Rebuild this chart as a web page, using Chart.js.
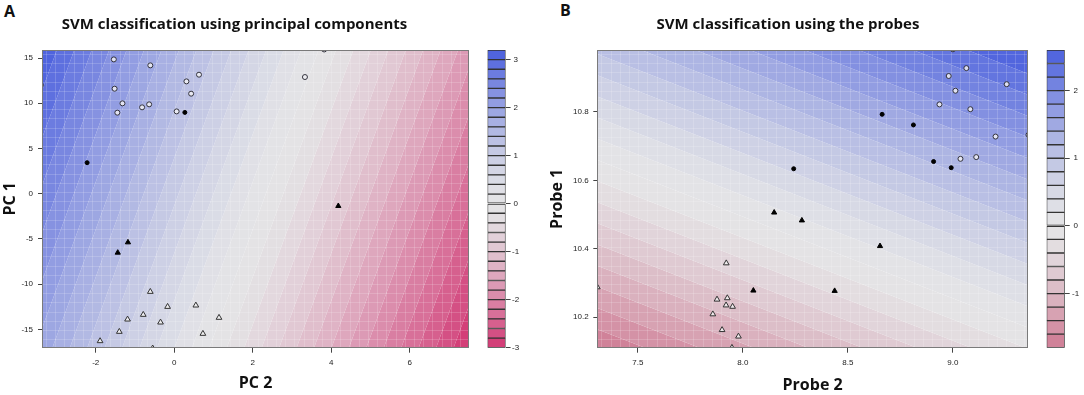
<!DOCTYPE html>
<html>
<head>
<meta charset="utf-8">
<script src="https://cdn.jsdelivr.net/npm/chart.js@4.4.1/dist/chart.umd.min.js"></script>
<style>
  body { margin: 0; background: #fff; }
  #fig { position: relative; width: 1084px; height: 395px; overflow: hidden; background: #fff; }
  #fig canvas { position: absolute; top: 0; }
  .tag { position: absolute; font: bold 16px "Open Sans", sans-serif; line-height: 16px; color: #111; }
</style>
</head>
<body>
<div id="fig">
  <div class="tag" style="left:4px;top:3px">A</div>
  <div class="tag" style="left:560px;top:2px">B</div>
  <canvas id="pcChart" width="551" height="395" style="left:0"></canvas>
  <canvas id="pcKey" width="60" height="395" style="left:480px"></canvas>
  <canvas id="probeChart" width="536" height="395" style="left:548px"></canvas>
  <canvas id="probeKey" width="46" height="395" style="left:1038px"></canvas>
</div>
<script>
// ---------- panel A : principal components ----------
const pcRangeX = [-3.37, 7.51];
const pcRangeY = [-17.03, 15.89];
const pcTicksX = [-2, 0, 2, 4, 6];
const pcTicksY = [-15, -10, -5, 0, 5, 10, 15];
const pcOpenCircles = [[-1.54, 14.85], [-0.61, 14.19], [-1.52, 11.61], [-1.32, 9.99], [-1.45, 8.96],
  [-0.82, 9.55], [-0.64, 9.88], [0.06, 9.10], [0.31, 12.42], [0.43, 11.06], [0.63, 13.16],
  [3.33, 12.90], [3.82, 15.95], [-3.40, 12.0]];
const pcFilledCircles = [[0.27, 8.99], [-2.22, 3.43]];
const pcOpenTriangles = [[-0.61, -10.84], [-0.17, -12.50], [0.55, -12.35], [1.14, -13.71], [-0.79, -13.38],
  [-1.19, -13.90], [-0.35, -14.23], [-1.40, -15.26], [0.73, -15.48], [-1.89, -16.29], [-0.55, -17.1]];
const pcFilledTriangles = [[4.18, -1.36], [-1.18, -5.38], [-1.44, -6.52], [7.58, -8.43]];
// decision value = intercept + w2 * PC2 + w1 * PC1
const pcDecision = [1.05, -0.45, 0.038];
const pcLevels = [-3.0, -2.8, -2.6, -2.4, -2.2, -2.0, -1.8, -1.6, -1.4, -1.2, -1.0, -0.8, -0.6, -0.4, -0.2, 0,
  0.2, 0.4, 0.6, 0.8, 1.0, 1.2, 1.4, 1.6, 1.8, 2.0, 2.2, 2.4, 2.6, 2.8, 3.0, 3.2];
const pcKeyTicks = [-3, -2, -1, 0, 1, 2, 3];

// ---------- panel B : the probes ----------
const probeRangeX = [7.307, 9.357];
const probeRangeY = [10.111, 10.981];
const probeTicksX = [7.5, 8.0, 8.5, 9.0];
const probeTicksY = [10.2, 10.4, 10.6, 10.8];
const probeOpenCircles = [[9.0, 10.983], [9.064, 10.928], [8.980, 10.905], [9.012, 10.862], [9.256, 10.881],
  [8.936, 10.822], [9.083, 10.808], [9.203, 10.728], [9.36, 10.733], [9.111, 10.668], [9.036, 10.663]];
const probeFilledCircles = [[8.663, 10.793], [8.812, 10.762], [8.908, 10.655], [8.992, 10.637], [8.242, 10.634]];
const probeOpenTriangles = [[7.921, 10.358], [7.307, 10.288], [7.877, 10.252], [7.926, 10.256], [7.920, 10.235],
  [7.951, 10.231], [7.857, 10.209], [7.901, 10.163], [7.979, 10.144], [7.948, 10.111]];
const probeFilledTriangles = [[8.149, 10.506], [8.281, 10.483], [8.653, 10.408], [8.050, 10.278], [8.437, 10.277]];
// decision value = intercept + w2 * Probe2 + w1 * Probe1
const probeDecision = [-40.133, 0.773, 3.235];
const probeLevels = [-1.8, -1.6, -1.4, -1.2, -1.0, -0.8, -0.6, -0.4, -0.2, 0,
  0.2, 0.4, 0.6, 0.8, 1.0, 1.2, 1.4, 1.6, 1.8, 2.0, 2.2, 2.4, 2.6];
const probeKeyTicks = [-1, 0, 1, 2];

// ---------- colours ----------
const midGrey = [228, 228, 230];
const blueEnd = [73, 94, 222];
function makePalette(maxAbs, redEnd) {
  return function(v) {
    const t = Math.pow(Math.min(Math.abs(v) / maxAbs, 1), 1.5);
    const end = v >= 0 ? blueEnd : redEnd;
    const c = midGrey.map((m, i) => Math.round(m + (end[i] - m) * t));
    return 'rgb(' + c.join(',') + ')';
  };
}
const pcPalette = makePalette(3.2, [208, 37, 103]);
const probePalette = makePalette(2.6, [191, 42, 84]);

const tickFont = { family: '"Liberation Sans", Arial, sans-serif', size: 8 };
const labelFont = { family: '"Open Sans", sans-serif', size: 16, weight: 'bold', lineHeight: 1 };

// keep the part of a polygon where g(p) >= 0
function clipPoly(poly, g) {
  const out = [];
  for (let i = 0; i < poly.length; i++) {
    const p = poly[i], q = poly[(i + 1) % poly.length];
    const gp = g(p), gq = g(q);
    if (gp >= 0) out.push(p);
    if ((gp >= 0) !== (gq >= 0)) {
      const t = gp / (gp - gq);
      out.push([p[0] + (q[0] - p[0]) * t, p[1] + (q[1] - p[1]) * t]);
    }
  }
  return out;
}

function decisionBands(coef, levels, palette) {
  return {
    id: 'decisionBands',
    beforeDatasetsDraw(chart) {
      const { ctx, chartArea: a, scales: { x, y } } = chart;
      const f = p => coef[0] + coef[1] * p[0] + coef[2] * p[1];
      const rect = [[x.min, y.min], [x.max, y.min], [x.max, y.max], [x.min, y.max]];
      ctx.save();
      ctx.beginPath();
      ctx.rect(a.left, a.top, a.width, a.height);
      ctx.clip();
      for (let i = 0; i < levels.length - 1; i++) {
        const lo = i === 0 ? -Infinity : levels[i];
        const hi = i === levels.length - 2 ? Infinity : levels[i + 1];
        let poly = clipPoly(rect, p => f(p) - lo);
        poly = clipPoly(poly, p => hi - f(p));
        if (poly.length < 3) continue;
        ctx.beginPath();
        poly.forEach((p, k) => {
          const px = x.getPixelForValue(p[0]), py = y.getPixelForValue(p[1]);
          if (k === 0) ctx.moveTo(px, py); else ctx.lineTo(px, py);
        });
        ctx.closePath();
        ctx.fillStyle = palette((levels[i] + levels[i + 1]) / 2);
        ctx.fill();
      }
      // faint raster texture of the original image
      ctx.strokeStyle = 'rgba(255,255,255,0.17)';
      ctx.lineWidth = 1;
      ctx.beginPath();
      for (let px = a.left + 4; px < a.right; px += 9.2) {
        ctx.moveTo(Math.round(px) + 0.5, a.top);
        ctx.lineTo(Math.round(px) + 0.5, a.bottom);
      }
      for (let py = a.top + 4; py < a.bottom; py += 9.2) {
        ctx.moveTo(a.left, Math.round(py) + 0.5);
        ctx.lineTo(a.right, Math.round(py) + 0.5);
      }
      ctx.stroke();
      ctx.restore();
    },
    afterDraw(chart) {
      const { ctx, chartArea: a } = chart;
      ctx.save();
      ctx.strokeStyle = '#7a7a7a';
      ctx.lineWidth = 1;
      ctx.strokeRect(Math.round(a.left) + 0.5, Math.round(a.top) + 0.5,
        Math.round(a.width) - 1, Math.round(a.height) - 1);
      ctx.restore();
    }
  };
}

function pointSets(openC, fillC, openT, fillT) {
  const base = { clip: 0, borderWidth: 1 };
  return [
    Object.assign({ data: openC.map(p => ({ x: p[0], y: p[1] })), pointStyle: 'circle', pointRadius: 2.5,
      borderColor: '#33333d', backgroundColor: 'rgba(240,240,244,0.85)' }, base),
    Object.assign({ data: fillC.map(p => ({ x: p[0], y: p[1] })), pointStyle: 'circle', pointRadius: 2,
      borderColor: '#000', backgroundColor: '#000' }, base),
    Object.assign({ data: openT.map(p => ({ x: p[0], y: p[1] })), pointStyle: 'triangle', pointRadius: 3.3,
      borderColor: '#333', backgroundColor: 'rgba(242,242,242,0.85)' }, base),
    Object.assign({ data: fillT.map(p => ({ x: p[0], y: p[1] })), pointStyle: 'triangle', pointRadius: 3,
      borderColor: '#000', backgroundColor: '#000' }, base)
  ];
}

function makePanel(id, o) {
  return new Chart(document.getElementById(id), {
    type: 'scatter',
    data: { datasets: pointSets(o.openC, o.fillC, o.openT, o.fillT) },
    plugins: [decisionBands(o.coef, o.levels, o.palette)],
    options: {
      responsive: false,
      animation: false,
      layout: { padding: { left: 0, right: o.padRight, top: 0, bottom: 0 } },
      plugins: {
        legend: { display: false },
        tooltip: { enabled: false },
        title: {
          display: true, text: o.title, color: '#111',
          font: { family: '"Open Sans", sans-serif', size: 15, weight: 'bold', lineHeight: 1.2 },
          padding: { top: 16, bottom: 16 }
        }
      },
      scales: {
        x: {
          type: 'linear', min: o.rangeX[0], max: o.rangeX[1],
          afterBuildTicks: s => { s.ticks = o.ticksX.map(v => ({ value: v })); },
          afterFit: s => { s.height = 47.3; },
          grid: { drawOnChartArea: false, tickLength: 5, color: '#444' },
          border: { display: false },
          ticks: { font: tickFont, color: '#222', padding: 5, maxRotation: 0, callback: o.fmtX },
          title: { display: true, text: o.xLabel, color: '#111', font: labelFont, padding: { top: 0, bottom: o.xTitlePad } }
        },
        y: {
          type: 'linear', min: o.rangeY[0], max: o.rangeY[1],
          afterBuildTicks: s => { s.ticks = o.ticksY.map(v => ({ value: v })); },
          afterFit: s => { s.width = o.axisWidth; },
          grid: { drawOnChartArea: false, tickLength: 4, color: '#444' },
          border: { display: false },
          ticks: { font: tickFont, color: '#222', padding: o.yTickPad, callback: o.fmtY },
          title: { display: true, text: o.yLabel, color: '#111', font: labelFont, padding: { top: o.yTitlePad, bottom: 0 } }
        }
      }
    }
  });
}

function makeKey(id, levels, ticks, palette, o) {
  const datasets = [];
  for (let i = 0; i < levels.length - 1; i++) {
    datasets.push({
      data: [[levels[i], levels[i + 1]]],
      backgroundColor: palette((levels[i] + levels[i + 1]) / 2),
      borderColor: '#333',
      borderWidth: 1,
      borderSkipped: false,
      barPercentage: 1,
      categoryPercentage: 1
    });
  }
  return new Chart(document.getElementById(id), {
    type: 'bar',
    data: { labels: ['key'], datasets: datasets },
    options: {
      responsive: false,
      animation: false,
      layout: { padding: { left: o.left, right: 0, top: 50, bottom: 47.3 } },
      plugins: { legend: { display: false }, tooltip: { enabled: false } },
      scales: {
        x: { display: false, stacked: true },
        y: {
          position: 'right', min: levels[0], max: levels[levels.length - 1],
          afterBuildTicks: s => { s.ticks = ticks.map(v => ({ value: v })); },
          afterFit: s => { s.width = o.axisWidth; },
          grid: { drawOnChartArea: false, tickLength: 5, color: '#444' },
          border: { display: false },
          ticks: { font: tickFont, color: '#222', crossAlign: 'center', padding: o.pad }
        }
      }
    }
  });
}

makePanel('pcChart', {
  title: 'SVM classification using principal components',
  xLabel: 'PC 2', yLabel: 'PC 1',
  rangeX: pcRangeX, rangeY: pcRangeY, ticksX: pcTicksX, ticksY: pcTicksY,
  openC: pcOpenCircles, fillC: pcFilledCircles, openT: pcOpenTriangles, fillT: pcFilledTriangles,
  coef: pcDecision, levels: pcLevels, palette: pcPalette,
  padRight: 82, axisWidth: 42, yTickPad: 5, xTitlePad: 4, yTitlePad: 2,
  fmtX: v => String(v), fmtY: v => String(v)
});
makeKey('pcKey', pcLevels, pcKeyTicks, pcPalette, { left: 7.5, axisWidth: 34.4, pad: 1.5 });

makePanel('probeChart', {
  title: 'SVM classification using the probes',
  xLabel: 'Probe 2', yLabel: 'Probe 1',
  rangeX: probeRangeX, rangeY: probeRangeY, ticksX: probeTicksX, ticksY: probeTicksY,
  openC: probeOpenCircles, fillC: probeFilledCircles, openT: probeOpenTriangles, fillT: probeFilledTriangles,
  coef: probeDecision, levels: probeLevels, palette: probePalette,
  padRight: 56.1, axisWidth: 49.3, yTickPad: 4.7, xTitlePad: 1.5, yTitlePad: 1,
  fmtX: v => v.toFixed(1), fmtY: v => v.toFixed(1)
});
makeKey('probeKey', probeLevels, probeKeyTicks, probePalette, { left: 8.6, axisWidth: 19.3, pad: 2.4 });
</script>
</body>
</html>
